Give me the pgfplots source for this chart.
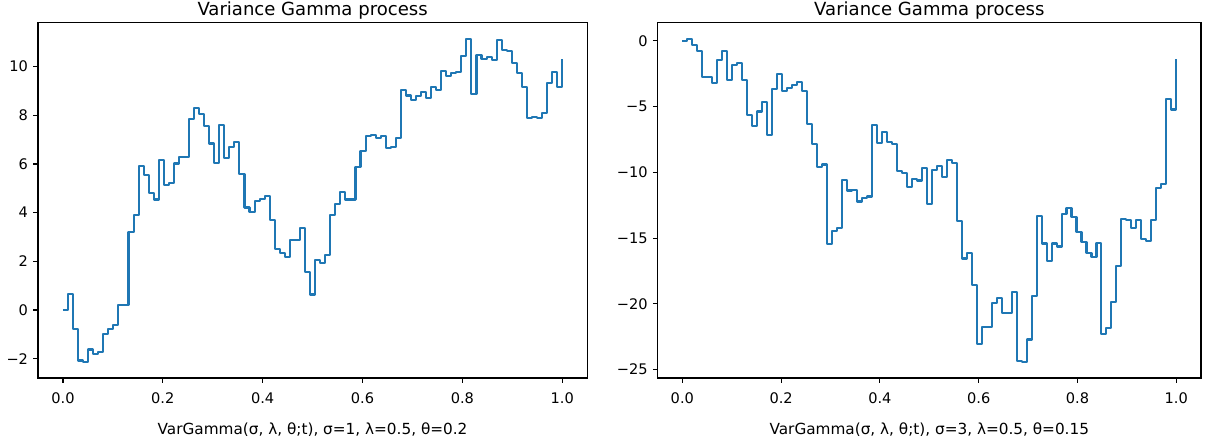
\documentclass[border=0pt]{standalone}
\usepackage{fontspec}
\setmainfont{DejaVu Sans}
\usepackage{pgfplots}
\usepackage{pgfplotstable}
\pgfplotsset{compat=1.18}
\definecolor{mplblue}{HTML}{1F77B4}

\pgfplotstableread{
x y
0.0000 0
0.0101 0.67
0.0202 -0.77
0.0303 -2.07
0.0404 -2.13
0.0505 -1.62
0.0606 -1.82
0.0707 -1.73
0.0808 -0.97
0.0909 -0.77
0.1010 -0.63
0.1111 0.19
0.1212 0.22
0.1313 3.21
0.1414 3.92
0.1515 5.93
0.1616 5.56
0.1717 4.81
0.1818 4.54
0.1919 6.16
0.2020 5.14
0.2121 5.20
0.2222 6.02
0.2323 6.30
0.2424 6.27
0.2525 7.85
0.2626 8.29
0.2727 8.04
0.2828 7.57
0.2929 6.84
0.3030 6.04
0.3131 7.60
0.3232 6.23
0.3333 6.68
0.3434 6.91
0.3535 5.60
0.3636 4.21
0.3737 4.03
0.3838 4.49
0.3939 4.55
0.4040 4.70
0.4141 3.69
0.4242 2.52
0.4343 2.36
0.4444 2.19
0.4545 2.88
0.4646 2.88
0.4747 3.36
0.4848 1.56
0.4949 0.64
0.5051 2.04
0.5152 1.92
0.5253 2.25
0.5354 3.92
0.5455 4.35
0.5556 4.86
0.5657 4.54
0.5758 4.54
0.5859 5.86
0.5960 6.54
0.6061 7.16
0.6162 7.19
0.6263 7.08
0.6364 7.16
0.6465 6.65
0.6566 6.68
0.6667 7.06
0.6768 9.04
0.6869 8.81
0.6970 8.64
0.7071 8.78
0.7172 8.94
0.7273 8.71
0.7374 9.15
0.7475 9.05
0.7576 9.82
0.7677 9.63
0.7778 9.74
0.7879 9.79
0.7980 10.45
0.8081 11.14
0.8182 8.88
0.8283 10.48
0.8384 10.31
0.8485 10.38
0.8586 10.25
0.8687 11.10
0.8788 10.69
0.8889 10.63
0.8990 10.15
0.9091 9.73
0.9192 9.15
0.9293 7.89
0.9394 7.93
0.9495 7.89
0.9596 8.09
0.9697 9.33
0.9798 9.79
0.9899 9.15
1.0000 10.29
}\leftdata

\pgfplotstableread{
x y
0.0000 0
0.0101 0.15
0.0202 -0.31
0.0303 -0.76
0.0404 -2.77
0.0505 -2.77
0.0606 -3.18
0.0707 -1.43
0.0808 -0.79
0.0909 -2.98
0.1010 -1.81
0.1111 -1.65
0.1212 -2.98
0.1313 -5.63
0.1414 -6.47
0.1515 -5.37
0.1616 -4.63
0.1717 -7.13
0.1818 -3.64
0.1919 -2.52
0.2020 -3.79
0.2121 -3.59
0.2222 -3.36
0.2323 -3.16
0.2424 -3.82
0.2525 -6.29
0.2626 -7.82
0.2727 -9.60
0.2828 -9.40
0.2929 -15.45
0.3030 -14.44
0.3131 -14.23
0.3232 -10.57
0.3333 -11.38
0.3434 -11.31
0.3535 -12.22
0.3636 -11.97
0.3737 -11.84
0.3838 -6.37
0.3939 -7.74
0.4040 -6.93
0.4141 -7.69
0.4242 -7.82
0.4343 -9.91
0.4444 -10.06
0.4545 -11.08
0.4646 -10.49
0.4747 -10.62
0.4848 -9.65
0.4949 -12.40
0.5051 -9.85
0.5152 -9.55
0.5253 -10.37
0.5354 -9.09
0.5455 -9.29
0.5556 -13.73
0.5657 -16.55
0.5758 -16.10
0.5859 -18.59
0.5960 -23.05
0.6061 -21.77
0.6162 -21.77
0.6263 -19.96
0.6364 -19.58
0.6465 -20.68
0.6566 -20.68
0.6667 -19.07
0.6768 -24.32
0.6869 -24.41
0.6970 -22.71
0.7071 -19.40
0.7172 -13.29
0.7273 -15.41
0.7374 -16.73
0.7475 -15.41
0.7576 -15.64
0.7677 -13.16
0.7778 -12.70
0.7879 -13.37
0.7980 -14.51
0.8081 -15.33
0.8182 -16.14
0.8283 -16.47
0.8384 -15.40
0.8485 -22.28
0.8586 -21.82
0.8687 -19.86
0.8788 -17.11
0.8889 -13.54
0.8990 -13.62
0.9091 -14.23
0.9192 -13.59
0.9293 -15.07
0.9394 -15.25
0.9495 -13.62
0.9596 -11.20
0.9697 -10.87
0.9798 -4.43
0.9899 -5.22
1.0000 -1.40
}\rightdata

\pgfplotsset{
  vgstyle/.style={
    scale only axis, anchor=south west,
    height=255.8pt,
    xmin=-0.05, xmax=1.05,
    axis line style={line width=0.8pt, black},
    every tick/.style={line width=0.8pt, black},
    major tick length=3.5pt, tick align=outside,
    xtick pos=left, ytick pos=left,
    xtick={0,0.2,0.4,0.6,0.8,1.0},
    xticklabels={0.0,0.2,0.4,0.6,0.8,1.0},
    tick label style={font=\fontsize{10.5}{12}\selectfont},
    xticklabel style={anchor=base, inner sep=0pt, yshift=-14.6pt},
    yticklabel style={anchor=east, inner sep=0pt, xshift=-3.5pt},
    every axis title/.style={font=\fontsize{13}{15}\selectfont, at={(0.5,1)}, anchor=base, inner sep=0pt, yshift=5pt},
    every axis x label/.style={font=\fontsize{11}{13}\selectfont, at={(0.5,0)}, anchor=base, inner sep=0pt, yshift=-41pt},
    title={Variance Gamma process},
  }
}

\begin{document}
\begin{tikzpicture}
\useasboundingbox (0,0) rectangle (870.48pt,320.4pt);
\begin{axis}[vgstyle,
  at={(27.36pt,48.24pt)}, width=395.4pt,
  ymin=-2.79, ymax=11.80,
  ytick={-2,0,2,4,6,8,10},
  yticklabels={−2,0,2,4,6,8,10},
  xlabel={VarGamma(σ, λ, θ;t), σ=1, λ=0.5, θ=0.2},
]
\addplot[const plot, mplblue, line width=1.5pt, line join=round] table[x=x, y=y] {\leftdata};
\end{axis}
\begin{axis}[vgstyle,
  at={(473.5pt,48.24pt)}, width=391.2pt,
  ymin=-25.64, ymax=1.38,
  ytick={-25,-20,-15,-10,-5,0},
  yticklabels={−25,−20,−15,−10,−5,0},
  xlabel={VarGamma(σ, λ, θ;t), σ=3, λ=0.5, θ=0.15},
]
\addplot[const plot, mplblue, line width=1.5pt, line join=round] table[x=x, y=y] {\rightdata};
\end{axis}
\end{tikzpicture}
\end{document}
